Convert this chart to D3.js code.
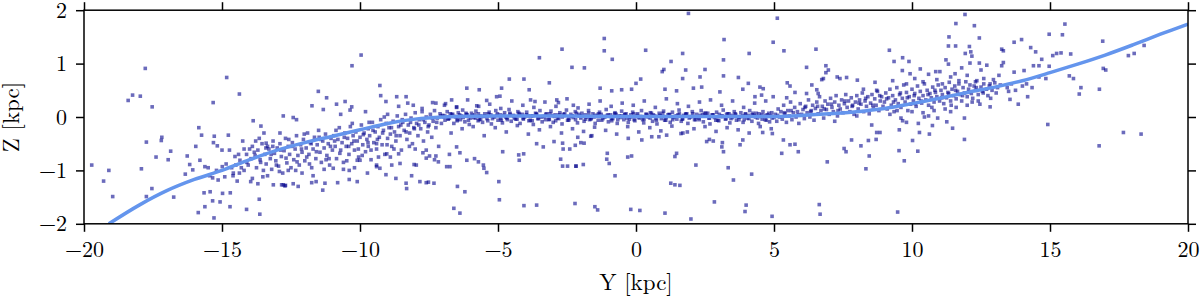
<!DOCTYPE html>
<html><head><meta charset="utf-8">
<script src="https://cdn.jsdelivr.net/npm/d3@7"></script>
<style>
body{margin:0;background:#fff}
svg{display:block}
text{font-family:"Latin Modern Roman","CMU Serif","Liberation Serif",serif;fill:#000}
</style>
</head><body>
<svg id="chart" width="1200" height="297"></svg>
<script>
// ---------- data ----------
const xTicks = [-20,-15,-10,-5,0,5,10,15,20];
const yTicks = [-2,-1,0,1,2];
const xLabel = "Y [kpc]";
const yLabel = "Z [kpc]";

// fitted warp curve
const curveY = [-19.1,-18,-17,-16,-15,-14,-13,-12,-11,-10,-9,-8,-7,-6,-5,-4,-3,-2,-1,0,1,2,3,4,5,6,7,8,9,10,11,12,13,14,15,16,17,18,19,20];
const curveZ = [-2.0,-1.65,-1.38,-1.17,-1.0,-0.8,-0.62,-0.48,-0.36,-0.24,-0.12,-0.04,0.0,0.015,0.02,0.02,0.02,0.015,0.01,0.01,0.01,0.01,0.01,0.01,0.01,0.03,0.06,0.1,0.16,0.25,0.35,0.46,0.56,0.68,0.83,0.99,1.16,1.35,1.55,1.74];

// scattered stars [Y, Z] far from the disc
const outliers = [
[-19.72,-0.9],[-19.29,-1.2],[-19.1,-1.0],[-18.96,-1.49],[-18.4,0.31],[-18.24,0.41],[-17.96,0.39],[-17.78,0.91],[-17.53,0.19],[-17.74,-0.47],[-17.92,-0.97],[-17.74,-1.49],[-17.54,-1.34],[-17.39,-0.75],[-17.18,-0.38],[-17.2,-0.44],[-16.86,-0.64],[-16.95,-0.8],[-16.75,-1.5],[-16.33,-1.07],[-16.26,-0.73],[-16.17,-0.89],[-16.06,-0.99],[-15.84,-0.2],[-15.74,-0.34],[-15.8,-0.81],[-15.62,-0.93],[-15.86,-1.79],[-15.62,-1.68],[-15.65,-1.42],[-15.43,-1.4],[-15.32,0.27],[-15.28,-0.36],[-15.31,-0.48],[-15.17,-0.54],[-15.34,-1.57],[-15.07,-1.59],[-15.29,-1.89],[-15.34,-1.14],[-15.14,-1.18],[-14.99,-0.93],[-14.83,0.74],[-14.77,-0.34],[-14.73,-0.62],[-14.98,-1.43],[-14.71,-1.68],[-14.7,-1.42],[-14.59,-1.05],[-14.53,-0.74],[-14.37,0.43],[-14.35,-0.81],[-14.37,-1.05],[-14.11,-1.73],[-14.11,-0.7],[-13.87,-0.07],[-13.63,-1.82],[-13.65,-1.54],[-13.96,-1.21],[-13.7,-1.25],[-13.59,-0.17],[-13.48,-0.3],[-12.78,0.02],[-12.42,-0.01],[-12.3,-0.05],[-13.4,-0.49],[-13.35,-0.55],[-13.14,-1.27],[-12.78,-1.27],[-12.7,-1.28],
[-15.95,-0.55],[-15.5,-0.95],[-15.45,-1.1],[-15.2,-1.0],[-15.0,-0.62],[-14.9,-1.12],[-14.85,-0.88],[-14.65,-0.95],[-14.45,-1.2],[-14.25,-0.45],[-14.2,-1.0],[-14.05,-0.9],[-14.0,-0.6],[-13.95,-0.78],
[-9.96,1.16],[-10.29,0.96],[-11.51,0.48],[-11.21,0.36],[-11.74,0.21],[-10.85,0.24],[-10.54,0.29],[-10.36,0.13],[-10.3,0.19],[-11.33,0.14],[-9.28,0.59],[-9.25,0.4],[-9.06,0.29],[-8.67,0.38],[-8.33,0.38],[-8.27,0.26],[-8.07,0.22],[-7.75,0.16],[-7.37,0.27],[-7.25,0.26],[-6.94,0.22],[-6.68,0.32],[-6.5,0.19],[-6.13,0.54],[-5.68,0.51],[-5.77,0.21],[-5.41,0.31],[-5.05,0.38],[-4.93,0.39],[-4.87,0.54],[-4.59,0.71],[-4.06,0.71],[-3.87,0.51],[-3.82,0.32],[-3.66,0.29],[-3.5,1.11],[-3.14,0.64],[-2.87,0.32],[-2.81,0.27],[-2.68,1.27],[-2.32,0.93],[-2.27,0.22],[-2.2,-0.53],[-2.18,-0.92],[-2.21,-1.62],[-3.6,-1.65],[-4.06,-1.66],[-4.95,-1.55],[-4.97,-1.21],[-4.83,-0.65],[-4.25,-0.71],[-4.07,-0.69],[-4.23,-0.81],[-3.36,-0.56],[-3.6,-0.5],[-2.97,-0.46],[-2.66,-0.49],[-2.64,-0.6],[-2.73,-0.79],[-2.66,-0.92],[-5.41,-1.04],[-5.53,-0.9],[-5.51,-0.96],[-5.71,-0.84],[-5.85,-0.78],[-6.13,-0.81],[-6.38,-0.67],[-6.2,-1.4],[-6.47,-1.3],[-6.6,-1.71],[-6.38,-1.8],[-6.86,-0.93],[-6.74,-0.93],[-6.5,-0.56],[-6.76,-0.7],[-7.16,-0.84],[-7.3,-0.8],[-7.25,-0.73],[-7.6,-0.77],[-7.48,-0.73],[-7.52,-1.22],[-7.6,-1.23],[-7.32,-1.24],[-7.83,-1.21],[-8.13,-1.1],[-8.33,-1.24],[-8.31,-1.34],[-8.04,-0.89],[-7.96,-0.9],[-7.72,-0.67],[-8.7,-1.15],[-9.06,-1.08],[-9.4,-0.93],[-9.28,-0.96],[-9.73,-1.05],[-10.1,-1.21],[-10.39,-1.17],[-10.81,-1.23],[-11.27,-1.24],[-11.35,-1.37],[-11.59,-1.21],[-11.75,-1.23],[-12.24,-1.3],[-12.42,-1.25],[-12.72,-1.29],[-12.84,-1.27],[-10.97,-0.96],[-10.6,-0.98],[-10.39,-1.0],[-10.0,-0.81],[-10.1,-0.81],[-9.7,-0.55],[-9.6,-0.62],[-9.4,-0.5],[-9.03,-0.69],[-8.85,-0.9],[-8.6,-0.69],[-8.55,-0.87],
[1.9,1.94],[5.12,1.85],[4.97,1.4],[5.36,1.24],[3.19,1.45],[3.17,1.07],[3.17,0.77],[4.1,1.19],[3.71,0.74],[4.07,0.63],[4.49,0.56],[4.61,0.53],[6.52,1.27],[6.18,0.93],[6.88,0.96],[6.97,0.88],[6.88,0.83],[6.79,0.72],[6.73,0.7],[6.37,0.6],[7.29,0.75],[7.39,0.72],[7.63,0.74],[8.02,0.69],[8.24,0.52],[8.66,0.65],[8.72,0.5],[5.48,0.64],[5.58,0.58],[5.76,0.46],[6.18,0.44],[6.55,0.51],[6.6,0.44],[-1.15,1.47],[-1.15,1.24],[-0.86,1.08],[-1.87,0.92],[0.35,1.25],[1.69,1.19],[1.27,1.04],[0.95,0.85],[1.01,0.89],[1.8,0.88],[2.5,0.89],[2.32,0.75],[1.69,0.72],[0.17,0.71],[0.0,0.63],[-1.3,0.54],[-0.88,0.49],[-0.52,0.51],[-0.16,0.52],[1.05,0.52],[1.47,0.49],[2.08,0.54],[2.38,0.56],[3.04,0.47],[3.87,0.52],[4.31,0.38],[4.55,0.41],[4.97,0.38],[5.46,0.36],
[-1.49,-1.68],[-1.39,-1.74],[-0.19,-1.73],[0.14,-1.75],[1.05,-1.8],[1.99,-1.91],[2.84,-1.59],[3.99,-1.65],[3.95,-1.77],[4.93,-1.86],[6.64,-1.64],[6.67,-1.82],[1.26,-1.24],[1.41,-1.27],[1.59,-1.28],[-0.76,-1.1],[-2.17,-0.92],[-1.91,-0.89],[-2.48,-0.92],[-1.06,-0.79],[-0.97,-0.87],[-0.3,-0.75],[-0.16,-0.73],[-1.04,-0.68],[2.17,-0.9],[3.34,-0.95],[3.53,-1.18],[4.19,-1.07],[3.17,-0.65],[3.11,-0.56],[3.87,-0.43],[3.77,-0.52],[5.34,-0.43],[5.58,-0.52],[5.28,-0.68],[5.88,-0.65],[5.76,-0.51],[6.93,-0.84],[7.54,-0.59],[7.61,-0.65],[7.81,-0.43],[8.15,-0.54],[8.45,-0.73],[8.33,-0.97],[8.72,-0.29],[8.7,-0.42],[-2.0,-0.48],[-1.88,-0.49],[-2.11,-0.38],[-2.4,-0.6],[-1.64,-0.36],[-1.6,-0.35],[-0.28,-0.4],[0.21,-0.43],[0.57,-0.37],[0.83,-0.37],[1.11,-0.34],[1.63,-0.31],[1.86,-0.28],[2.56,-0.46],[2.66,-0.42],[2.8,-0.45],[1.47,-0.68],[1.41,-0.74],[3.13,-0.48],[4.59,-0.29],[4.94,-0.31],
[11.92,1.92],[11.59,1.75],[12.26,1.71],[11.34,1.5],[11.32,1.33],[11.58,1.33],[12.08,1.32],[12.13,1.22],[12.17,1.14],[11.93,1.19],[12.44,1.48],[9.18,1.25],[9.35,1.04],[9.66,1.11],[9.89,1.04],[9.65,0.87],[9.93,0.81],[10.86,0.85],[11.01,0.85],[11.23,1.07],[11.32,0.99],[12.1,1.01],[12.44,1.01],[12.71,0.97],[11.56,0.81],[13.25,1.27],[13.31,1.24],[13.31,1.02],[13.25,0.96],[13.7,1.4],[13.97,1.45],[14.3,1.3],[14.48,1.22],[14.7,1.08],[14.4,0.96],[14.6,0.96],[14.97,1.55],[15.45,1.54],[15.54,1.74],[15.1,1.15],[15.24,1.19],[15.4,1.2],[15.75,1.18],[14.97,0.95],[13.7,0.84],[14.06,0.87],[15.7,0.77],[15.85,0.72],[16.12,0.55],[16.06,0.43],[16.79,0.52],[16.91,1.42],[16.93,0.91],[17.02,0.88],[17.84,1.15],[18.05,1.19],[18.41,1.34],[14.92,-0.14],[16.78,-0.54],[17.66,-0.29],[18.3,-0.32],[9.48,-1.78],[9.53,-0.63],[9.72,-0.82],[10.21,-0.64],[10.02,-0.44],[10.27,-0.29],[10.63,-0.32],[10.74,-0.16],[11.9,-0.42],[11.47,-0.21],[11.26,-0.09],[9.54,-0.24],[9.66,-0.07],[8.42,-0.44],[8.84,-0.29],[8.54,-0.15],[13.55,0.33],[13.85,0.24],[14.19,0.38],[12.83,0.19],[12.46,0.24],[11.9,-0.02],[10.93,-0.02],[10.45,0.0],[10.23,-0.12],
[13.45,0.55],[13.6,0.62],[13.75,0.5],[13.5,0.48],[14.0,0.58],[14.15,0.62],[14.35,0.55],[14.6,0.75],[14.85,0.72],[13.2,0.6],[13.05,0.45],[12.95,0.7],[13.15,0.78],
[9.3,0.68],[9.8,0.62],[10.1,0.72],[10.4,0.66],[10.6,0.8],[10.9,0.7],[11.1,0.62],[11.4,0.75],[11.7,0.68],[12.0,0.78],[12.3,0.66],[12.6,0.72],[11.8,0.92],[12.5,0.88],[10.3,0.9]
];

// stars [Y, Z] in the dense disc band
const band = [
[-13.9,-0.55],[-13.8,-0.72],[-13.75,-0.95],[-13.7,-0.62],[-13.6,-0.85],[-13.55,-0.5],[-13.5,-1.0],[-13.45,-0.7],[-13.4,-0.88],[-13.3,-0.6],[-13.25,-0.78],[-13.2,-0.98],[-13.15,-0.45],[-13.1,-0.68],[-13.05,-0.82],[-13.0,-0.58],[-12.95,-0.92],[-12.9,-0.5],[-12.85,-0.74],[-12.8,-1.05],[-12.75,-0.63],[-12.7,-0.4],[-12.65,-0.86],[-12.6,-0.55],[-12.55,-0.7],[-12.5,-0.95],[-12.45,-0.48],[-12.4,-0.8],[-12.35,-0.6],[-12.3,-0.35],[-12.25,-0.72],[-12.2,-0.9],[-12.15,-0.52],[-12.1,-0.66],[-12.05,-0.42],[-12.0,-0.82],[-11.95,-0.58],[-11.9,-0.3],[-11.85,-0.7],[-11.8,-0.48],[-11.75,-0.95],[-11.7,-0.6],[-11.65,-0.38],[-11.6,-0.78],[-11.55,-0.52],[-11.5,-0.25],[-11.45,-0.66],[-11.4,-0.85],[-11.35,-0.45],[-11.3,-0.58],[-11.25,-0.32],[-11.2,-0.72],[-11.15,-0.5],[-11.1,-0.9],[-11.05,-0.4],[-11.0,-0.62],
[-14.2,-0.6],[-14.1,-0.85],[-14.3,-0.95],[-14.4,-0.7],[-14.5,-0.9],[-14.6,-1.1],[-13.9,-1.15],[-13.65,-0.4],[-13.35,-1.1],[-12.9,-0.3],[-12.6,-1.0],[-12.1,-1.05],[-11.7,-1.1],[-11.3,-0.98],
[-10.95,-0.35],[-10.9,-0.55],[-10.85,-0.78],[-10.8,-0.42],[-10.75,-0.2],[-10.7,-0.62],[-10.65,-0.48],[-10.6,-0.85],[-10.55,-0.3],[-10.5,-0.55],[-10.45,-0.4],[-10.4,-0.7],[-10.35,-0.18],[-10.3,-0.5],[-10.25,-0.35],[-10.2,-0.62],[-10.15,-0.28],[-10.1,-0.45],[-10.05,-0.75],[-10.0,-0.38],[-9.95,-0.15],[-9.9,-0.52],[-9.85,-0.3],[-9.8,-0.65],[-9.75,-0.42],[-9.7,-0.22],[-9.65,-0.35],[-9.6,-0.8],[-9.55,-0.1],[-9.5,-0.48],[-9.45,-0.28],[-9.4,-0.6],[-9.35,-0.18],[-9.3,-0.38],[-9.25,-0.05],[-9.2,-0.52],[-9.15,-0.25],[-9.1,-0.7],[-9.05,-0.12],[-9.0,-0.4],[-8.95,-0.2],[-8.9,-0.32],[-8.85,-0.55],[-8.8,-0.08],[-8.75,-0.28],[-8.7,-0.45],[-8.65,0.02],[-8.6,-0.18],[-8.55,-0.35],[-8.5,-0.62],[-8.45,-0.1],[-8.4,-0.25],[-8.35,0.05],[-8.3,-0.42],[-8.25,-0.15],[-8.2,-0.3],[-8.15,-0.02],[-8.1,-0.5],[-8.05,-0.2],[-8.0,0.08],[-7.95,-0.12],[-7.9,-0.35],[-7.85,-0.05],[-7.8,-0.22],[-7.75,0.1],[-7.7,-0.45],[-7.65,-0.1],[-7.6,0.0],[-7.55,-0.28],[-7.5,-0.15],[-7.45,0.05],[-7.4,-0.38],[-7.35,-0.08],[-7.3,0.12],[-7.25,-0.2],[-7.2,-0.02],[-7.15,-0.55],[-7.1,0.06],[-7.05,-0.12],
[-10.7,0.05],[-9.8,0.1],[-9.0,0.05],[-8.6,0.2],[-10.2,-0.95],[-9.4,-0.9],[-8.9,-0.75],[-8.0,-0.6],[-7.6,-0.62],
[-13.83,-0.66],[-13.62,-0.8],[-13.41,-0.58],[-13.22,-0.7],[-13.03,-0.9],[-12.87,-0.62],[-12.68,-0.77],[-12.47,-0.55],[-12.28,-0.84],[-12.12,-0.6],[-11.93,-0.75],[-11.77,-0.5],[-11.58,-0.65],[-11.42,-0.42],[-11.23,-0.8],[-11.07,-0.55],[-10.92,-0.45],[-10.73,-0.68],[-10.57,-0.38],[-10.41,-0.55],[-10.22,-0.45],[-10.06,-0.6],[-9.88,-0.33],[-9.71,-0.48],[-9.53,-0.25],[-9.37,-0.42],[-9.18,-0.3],[-9.02,-0.52],[-8.86,-0.2],[-8.69,-0.35],[-8.52,-0.15],[-8.33,-0.28],[-8.17,-0.1],[-8.03,-0.22],[-7.87,-0.15],[-7.71,-0.05],[-7.53,-0.18],[-7.38,-0.02],[-7.22,-0.1],[-7.07,0.02],
[-13.78,-0.45],[-13.16,-0.55],[-12.58,-0.42],[-12.02,-0.32],[-11.48,-0.38],[-10.87,-0.25],[-10.28,-0.12],[-9.67,-0.1],[-9.12,0.0],[-8.47,-0.05],
[-13.52,-1.12],[-12.92,-1.02],[-12.33,-1.0],[-11.83,-0.88],[-11.12,-0.78],[-10.48,-0.82],[-9.92,-0.72],[-9.33,-0.75],[-8.77,-0.6],[-8.21,-0.55],
[-7.0,0.03],[-6.92,-0.06],[-6.84,0.1],[-6.76,-0.02],[-6.68,0.05],[-6.6,-0.12],[-6.52,0.0],[-6.44,0.08],[-6.36,-0.05],[-6.28,0.13],[-6.2,-0.09],[-6.12,0.04],[-6.04,-0.14],[-5.96,0.07],[-5.88,-0.01],[-5.8,0.11],[-5.72,-0.07],[-5.64,0.02],[-5.56,-0.1],[-5.48,0.06],[-5.4,-0.03],[-5.32,0.09],[-5.24,-0.13],[-5.16,0.01],[-5.08,0.12],[-5.0,-0.06],[-4.92,0.04],[-4.84,-0.11],[-4.76,0.08],[-4.68,-0.02],[-4.6,0.14],[-4.52,-0.08],[-4.44,0.03],[-4.36,-0.04],[-4.28,0.1],[-4.2,-0.12],[-4.12,0.05],[-4.04,0.0],[-3.96,0.09],[-3.88,-0.07],[-3.8,0.02],[-3.72,-0.14],[-3.64,0.07],[-3.56,-0.03],[-3.48,0.12],[-3.4,-0.09],[-3.32,0.01],[-3.24,0.06],[-3.16,-0.05],[-3.08,0.11],[-3.0,-0.1],[-2.92,0.04],[-2.84,-0.02],[-2.76,0.08],[-2.68,-0.13],[-2.6,0.03],[-2.52,0.13],[-2.44,-0.06],[-2.36,0.05],[-2.28,-0.01],[-2.2,0.1],[-2.12,-0.11],[-2.04,0.02],[-1.96,0.07],[-1.88,-0.08],[-1.8,0.0],[-1.72,0.12],[-1.64,-0.04],[-1.56,0.06],[-1.48,-0.12],[-1.4,0.03],[-1.32,0.09],[-1.24,-0.06],[-1.16,0.01],[-1.08,0.14],[-1.0,-0.09],[-0.92,0.04],[-0.84,-0.03],[-0.76,0.08],[-0.68,-0.12],[-0.6,0.02],[-0.52,0.11],[-0.44,-0.05],[-0.36,0.06],[-0.28,-0.1],[-0.2,0.0],[-0.12,0.09],[-0.04,-0.07],[0.04,0.03],[0.12,-0.02],[0.2,0.12],[0.28,-0.11],[0.36,0.05],[0.44,0.0],[0.52,0.08],[0.6,-0.08],[0.68,0.02],[0.76,-0.13],[0.84,0.07],[0.92,-0.03],[1.0,0.11],[1.08,-0.06],[1.16,0.04],[1.24,-0.1],[1.32,0.09],[1.4,0.01],[1.48,-0.04],[1.56,0.13],[1.64,-0.08],[1.72,0.03],[1.8,0.06],[1.88,-0.12],[1.96,0.0],[2.04,0.1],[2.12,-0.05],[2.2,0.05],[2.28,-0.02],[2.36,0.12],[2.44,-0.09],[2.52,0.02],[2.6,0.07],[2.68,-0.13],[2.76,0.04],[2.84,-0.01],[2.92,0.09],[3.0,-0.07],[3.08,0.01],[3.16,0.13],[3.24,-0.04],[3.32,0.06],[3.4,-0.11],[3.48,0.03],[3.56,0.1],[3.64,-0.06],[3.72,0.0],[3.8,0.08],[3.88,-0.1],[3.96,0.05],[4.04,-0.02],[4.12,0.12],[4.2,-0.08],[4.28,0.03],[4.36,0.07],[4.44,-0.12],[4.52,0.01],[4.6,0.1],[4.68,-0.05],[4.76,0.04],[4.84,-0.09],[4.92,0.08],[5.0,-0.01],
[-6.96,0.0],[-6.8,-0.04],[-6.64,0.05],[-6.48,-0.07],[-6.32,0.02],[-6.16,0.07],[-6.0,-0.02],[-5.84,0.04],[-5.68,-0.05],[-5.52,0.01],[-5.36,0.06],[-5.2,-0.03],[-5.04,0.03],[-4.88,-0.06],[-4.72,0.0],[-4.56,0.05],[-4.4,-0.02],[-4.24,0.07],[-4.08,-0.04],[-3.92,0.02],[-3.76,-0.07],[-3.6,0.04],[-3.44,0.0],[-3.28,-0.05],[-3.12,0.06],[-2.96,0.01],[-2.8,-0.03],[-2.64,0.05],[-2.48,-0.06],[-2.32,0.02],[-2.16,0.07],[-2.0,-0.02],[-1.84,0.04],[-1.68,-0.05],[-1.52,0.0],[-1.36,0.06],[-1.2,-0.03],[-1.04,0.03],[-0.88,-0.07],[-0.72,0.05],[-0.56,-0.01],[-0.4,0.04],[-0.24,-0.04],[-0.08,0.06],[0.08,0.0],[0.24,-0.05],[0.4,0.03],[0.56,0.07],[0.72,-0.03],[0.88,0.02],[1.04,-0.06],[1.2,0.05],[1.36,-0.01],[1.52,0.04],[1.68,-0.04],[1.84,0.06],[2.0,0.01],[2.16,-0.05],[2.32,0.03],[2.48,0.07],[2.64,-0.02],[2.8,0.04],[2.96,-0.06],[3.12,0.02],[3.28,0.05],[3.44,-0.03],[3.6,0.06],[3.76,0.0],[3.92,-0.05],[4.08,0.03],[4.24,0.07],[4.4,-0.02],[4.56,0.04],[4.72,-0.06],[4.88,0.02],
[-6.93,0.02],[-6.81,-0.03],[-6.73,0.06],[-6.58,0.01],[-6.47,-0.05],[-6.39,0.04],[-6.26,-0.01],[-6.14,0.05],[-6.07,-0.06],[-5.93,0.03],[-5.82,-0.02],[-5.71,0.06],[-5.63,-0.04],[-5.49,0.02],[-5.37,-0.07],[-5.26,0.04],[-5.13,0.0],[-5.02,0.06],[-4.91,-0.03],[-4.79,0.03],[-4.66,-0.05],[-4.57,0.07],[-4.43,0.01],[-4.31,-0.04],[-4.22,0.05],[-4.09,-0.02],[-3.97,0.04],[-3.83,-0.06],[-3.74,0.02],[-3.61,0.06],[-3.53,-0.03],[-3.39,0.01],[-3.27,0.05],[-3.14,-0.04],[-3.03,0.03],[-2.91,-0.07],[-2.79,0.04],[-2.67,0.0],[-2.58,0.06],[-2.43,-0.03],[-2.31,0.02],[-2.19,-0.05],[-2.07,0.05],[-1.97,0.01],[-1.83,-0.04],[-1.71,0.07],[-1.62,-0.02],[-1.49,0.03],[-1.37,-0.06],[-1.26,0.05],[-1.13,0.0],[-1.01,0.04],[-0.89,-0.03],[-0.77,0.06],[-0.66,-0.05],[-0.53,0.02],[-0.41,0.05],[-0.33,-0.02],[-0.19,0.04],[-0.07,-0.05],[0.06,0.06],[0.17,0.01],[0.29,-0.04],[0.38,0.05],[0.51,-0.02],[0.63,0.04],[0.74,-0.06],[0.86,0.03],[0.97,0.07],[1.09,-0.01],[1.22,0.04],[1.33,-0.05],[1.46,0.02],[1.57,0.06],[1.69,-0.03],[1.81,0.04],[1.93,-0.02],[2.06,0.06],[2.17,0.0],[2.29,-0.05],[2.41,0.04],[2.53,0.07],[2.66,-0.02],[2.77,0.03],[2.89,-0.06],[3.02,0.05],[3.13,0.01],[3.26,-0.03],[3.37,0.06],[3.49,-0.01],[3.61,0.04],[3.73,-0.05],[3.86,0.02],[3.97,0.06],[4.09,-0.03],[4.21,0.04],[4.33,0.0],[4.46,0.06],[4.57,-0.04],[4.69,0.03],[4.81,0.07],[4.93,-0.02],
[-6.9,0.25],[-6.7,-0.3],[-6.5,0.18],[-6.3,-0.22],[-6.1,0.32],[-5.9,-0.18],[-5.7,0.2],[-5.5,-0.35],[-5.3,0.24],[-5.1,-0.2],[-4.9,0.16],[-4.7,-0.28],[-4.5,0.3],[-4.3,-0.16],[-4.1,0.22],[-3.9,-0.32],[-3.7,0.18],[-3.5,-0.24],[-3.3,0.28],[-3.1,-0.18],[-2.9,0.2],[-2.7,-0.3],[-2.5,0.34],[-2.3,-0.22],[-2.1,0.17],[-1.9,-0.27],[-1.7,0.24],[-1.5,-0.19],[-1.3,0.3],[-1.1,-0.25],[-0.9,0.2],[-0.7,-0.32],[-0.5,0.26],[-0.3,-0.18],[-0.1,0.22],[0.1,-0.28],[0.3,0.3],[0.5,-0.2],[0.7,0.18],[0.9,-0.26],[1.1,0.34],[1.3,-0.17],[1.5,0.25],[1.7,-0.3],[1.9,0.2],[2.1,-0.22],[2.3,0.28],[2.5,-0.18],[2.7,0.32],[2.9,-0.27],[3.1,0.22],[3.3,-0.2],[3.5,0.3],[3.7,-0.24],[3.9,0.18],[4.1,-0.3],[4.3,0.26],[4.5,-0.18],[4.7,0.3],[4.9,-0.22],
[5.05,0.05],[5.1,-0.08],[5.15,0.15],[5.2,0.0],[5.25,0.1],[5.3,-0.04],[5.35,0.22],[5.4,0.06],[5.45,-0.1],[5.5,0.12],[5.55,0.02],[5.6,0.28],[5.65,-0.05],[5.7,0.08],[5.75,0.18],[5.8,0.0],[5.85,0.1],[5.9,-0.12],[5.95,0.25],[6.0,0.05],[6.05,0.14],[6.1,-0.03],[6.15,0.2],[6.2,0.08],[6.25,0.32],[6.3,0.0],[6.35,0.12],[6.4,0.22],[6.45,-0.06],[6.5,0.16],[6.55,0.28],[6.6,0.06],[6.65,0.38],[6.7,0.12],[6.75,0.2],[6.8,-0.02],[6.85,0.3],[6.9,0.14],[6.95,0.24],[7.0,0.05],[7.05,0.35],[7.1,0.18],[7.15,0.1],[7.2,0.28],[7.25,0.4],[7.3,0.02],[7.35,0.22],[7.4,0.15],[7.45,0.32],[7.5,0.08],[7.55,0.25],[7.6,0.42],[7.65,0.18],[7.7,0.3],[7.75,0.1],[7.8,0.36],[7.85,0.22],[7.9,0.05],[7.95,0.28],[8.0,0.4],[8.05,0.15],[8.1,0.32],[8.15,0.24],[8.2,0.45],[8.25,0.1],[8.3,0.3],[8.35,0.2],[8.4,0.38],[8.45,0.06],[8.5,0.26],[8.55,0.42],[8.6,0.16],[8.65,0.34],[8.7,0.22],[8.75,0.48],[8.8,0.12],[8.85,0.3],[8.9,0.38],[8.95,0.2],
[9.0,0.28],[9.05,0.45],[9.1,0.15],[9.15,0.36],[9.2,0.52],[9.25,0.22],[9.3,0.4],[9.35,0.1],[9.4,0.32],[9.45,0.55],[9.5,0.25],[9.55,0.42],[9.6,0.18],[9.65,0.35],[9.7,0.6],[9.75,0.28],[9.8,0.46],[9.85,0.12],[9.9,0.38],[9.95,0.24],[10.0,0.52],[10.05,0.3],[10.1,0.44],[10.15,0.2],[10.2,0.58],[10.25,0.35],[10.3,0.48],[10.35,0.26],[10.4,0.4],[10.45,0.62],[10.5,0.32],[10.55,0.5],[10.6,0.22],[10.65,0.44],[10.7,0.36],[10.75,0.56],[10.8,0.28],[10.85,0.46],[10.9,0.38],[10.95,0.6],[11.0,0.3],[11.05,0.5],[11.1,0.42],[11.15,0.25],[11.2,0.55],[11.25,0.36],[11.3,0.46],[11.35,0.65],[11.4,0.3],[11.45,0.52],[11.5,0.4],[11.55,0.58],[11.6,0.34],[11.65,0.48],[11.7,0.62],[11.75,0.42],[11.8,0.3],[11.85,0.55],[11.9,0.45],[11.95,0.66],[12.0,0.38],[12.05,0.52],[12.1,0.6],[12.15,0.44],[12.2,0.35],[12.25,0.58],[12.3,0.5],[12.35,0.68],[12.4,0.42],[12.5,0.56],[12.55,0.48],[12.6,0.62],[12.7,0.52],[12.75,0.4],[12.8,0.58],[12.9,0.5],[13.0,0.64],[13.1,0.55],
[9.2,0.05],[9.6,-0.02],[10.0,0.1],[10.4,0.08],[10.8,0.12],[11.2,0.15],[11.6,0.18],[12.0,0.22],[12.4,0.3],[9.8,-0.1],[10.6,0.02],[11.4,0.1],
[5.13,0.03],[5.37,0.08],[5.62,0.12],[5.88,0.04],[6.12,0.18],[6.33,0.1],[6.58,0.2],[6.82,0.15],[7.08,0.24],[7.32,0.12],[7.57,0.3],[7.83,0.2],[8.08,0.26],[8.32,0.35],[8.58,0.22],[8.83,0.4],[9.08,0.34],[9.33,0.28],[9.58,0.45],[9.83,0.36],[10.08,0.4],[10.33,0.3],[10.58,0.42],[10.83,0.5],[11.08,0.36],[11.33,0.44],[11.58,0.5],[11.83,0.4],[12.08,0.47],[12.33,0.55],[12.58,0.45],[12.83,0.62],[9.46,0.12],[10.12,0.25],[10.72,0.18],[11.42,0.22],[12.18,0.28],[12.85,0.35],[7.2,-0.08],[8.0,0.02]
];

// ---------- layout ----------
const L = 84, R = 1188, T = 10.2, B = 223.8;
const svg = d3.select("#chart");

const x = d3.scaleLinear().domain([-20, 20]).range([L, R]);
const y = d3.scaleLinear().domain([-2, 2]).range([B, T]);

svg.append("defs").append("clipPath").attr("id", "clip")
  .append("rect").attr("x", L).attr("y", T).attr("width", R - L).attr("height", B - T);

const plot = svg.append("g").attr("clip-path", "url(#clip)");

const S = 3.6;
const stars = outliers.concat(band);
plot.append("g").selectAll("rect").data(stars).join("rect")
  .attr("x", d => x(d[0]) - S / 2)
  .attr("y", d => y(d[1]) - S / 2)
  .attr("width", S).attr("height", S)
  .attr("fill", "#00008b").attr("fill-opacity", 0.58);

const curveData = curveY.map((v, i) => [v, curveZ[i]]);
plot.append("path").datum(curveData)
  .attr("d", d3.line().x(d => x(d[0])).y(d => y(d[1])).curve(d3.curveCatmullRom))
  .attr("fill", "none").attr("stroke", "#6495ed").attr("stroke-width", 3.5);

// ---------- axes ----------
const fnt = '"Latin Modern Roman", "CMU Serif", serif';
const fmt = d3.format("d");
const gB = svg.append("g").attr("transform", `translate(0,${B})`)
  .call(d3.axisBottom(x).tickValues(xTicks).tickSize(8).tickPadding(10).tickFormat(fmt));
const gT = svg.append("g").attr("transform", `translate(0,${T})`)
  .call(d3.axisTop(x).tickValues(xTicks).tickSize(8).tickFormat(""));
const gL = svg.append("g").attr("transform", `translate(${L},0)`)
  .call(d3.axisLeft(y).tickValues(yTicks).tickSize(8).tickPadding(9).tickFormat(fmt));
const gR = svg.append("g").attr("transform", `translate(${R},0)`)
  .call(d3.axisRight(y).tickValues(yTicks).tickSize(8).tickFormat(""));

[gB, gT, gL, gR].forEach(g => {
  g.attr("font-family", null);
  g.select(".domain").remove();
  g.selectAll(".tick line").attr("stroke", "#000").attr("stroke-width", 1.5);
  g.selectAll(".tick text").style("font-family", fnt)
    .style("font-size", "22px").attr("fill", "#000");
});

svg.append("rect").attr("x", L).attr("y", T).attr("width", R - L).attr("height", B - T)
  .attr("fill", "none").attr("stroke", "#000").attr("stroke-width", 1.5);

svg.append("text").attr("x", (L + R) / 2).attr("y", 290)
  .attr("text-anchor", "middle").style("font-family", fnt).style("font-size", "23px").text(xLabel);

svg.append("text").attr("transform", `translate(19,${(T + B) / 2}) rotate(-90)`)
  .attr("text-anchor", "middle").style("font-family", fnt).style("font-size", "23px").text(yLabel);
</script>
</body></html>
